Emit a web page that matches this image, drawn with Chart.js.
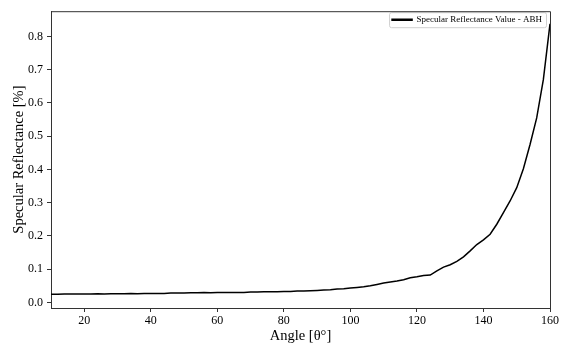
<!DOCTYPE html>
<html>
<head>
<meta charset="utf-8">
<script src="https://cdn.jsdelivr.net/npm/chart.js@4.4.0/dist/chart.umd.min.js"></script>
<style>
  html, body { margin: 0; padding: 0; background: #fff; }
  canvas { display: block; }
</style>
</head>
<body>
<canvas id="reflChart" width="561" height="351"></canvas>
<script>
// Angle of incidence [deg]
const angles = [10, 12, 14, 16, 18, 20, 22, 24, 26, 28, 30, 32, 34, 36, 38, 40, 42, 44, 46, 48,
    50, 52, 54, 56, 58, 60, 62, 64, 66, 68, 70, 72, 74, 76, 78, 80, 82, 84, 86, 88,
    90, 92, 94, 96, 98, 100, 102, 104, 106, 108, 110, 112, 114, 116, 118, 120, 122, 124, 126, 128,
    130, 132, 134, 136, 138, 140, 142, 144, 146, 148, 150, 152, 154, 156, 158, 160];

// Specular reflectance
const reflectance = [0.024, 0.024, 0.025, 0.025, 0.025, 0.025, 0.025, 0.026, 0.025, 0.026,
    0.026, 0.026, 0.027, 0.026, 0.027, 0.027, 0.027, 0.027, 0.028, 0.028,
    0.028, 0.029, 0.029, 0.030, 0.029, 0.030, 0.030, 0.030, 0.030, 0.030,
    0.031, 0.031, 0.032, 0.032, 0.032, 0.033, 0.033, 0.034, 0.034, 0.035,
    0.036, 0.037, 0.038, 0.040, 0.041, 0.043, 0.045, 0.047, 0.050, 0.054,
    0.058, 0.061, 0.064, 0.068, 0.074, 0.077, 0.081, 0.082, 0.095, 0.106,
    0.113, 0.123, 0.137, 0.155, 0.174, 0.188, 0.205, 0.235, 0.270, 0.305,
    0.345, 0.402, 0.475, 0.555, 0.670, 0.838];

const seriesLabel = 'Specular Reflectance Value - ABH';
const serif = '"Liberation Serif", "Times New Roman", serif';
const legendPad = 8;

// matplotlib look: legend in the upper right, box around it, top/right spines
const framePlugin = {
    id: 'frame',
    afterLayout(chart) {
        // move the (chartArea) legend to the upper right corner
        const lg = chart.legend;
        if (lg && lg.legendHitBoxes && lg.legendHitBoxes.length) {
            const hb = lg.legendHitBoxes[0];
            lg.left = chart.chartArea.right - legendPad - hb.width - legendPad;
            lg.top = chart.chartArea.top - 4;
        }
    },
    beforeDraw(chart) {
        const ctx = chart.ctx;
        const lg = chart.legend;
        if (lg && lg.legendHitBoxes && lg.legendHitBoxes.length) {
            const hb = lg.legendHitBoxes[0];
            const x0 = hb.left - 3, y0 = hb.top - 3;
            const w = hb.width + 7, h = hb.height + 6;
            ctx.save();
            ctx.fillStyle = 'rgba(255,255,255,0.8)';
            ctx.strokeStyle = '#d0d0d0';
            ctx.lineWidth = 1;
            ctx.beginPath();
            ctx.roundRect(x0 + 0.5, y0 + 0.5, w, h, 2);
            ctx.fill();
            ctx.stroke();
            ctx.restore();
        }
    },
    afterDraw(chart) {
        const {ctx, chartArea: a} = chart;
        ctx.save();
        ctx.strokeStyle = '#333';
        ctx.lineWidth = 1;
        ctx.beginPath();
        ctx.moveTo(a.left, a.top + 0.5);
        ctx.lineTo(a.right + 0.5, a.top + 0.5);
        ctx.lineTo(a.right + 0.5, a.bottom);
        ctx.stroke();
        ctx.restore();
    }
};

new Chart(document.getElementById('reflChart'), {
    type: 'line',
    data: {
        datasets: [{
            label: seriesLabel,
            data: angles.map((a, i) => ({x: a, y: reflectance[i]})),
            borderColor: '#000',
            backgroundColor: '#000',
            borderWidth: 1.5,
            pointRadius: 0,
            tension: 0,
            fill: false
        }]
    },
    options: {
        responsive: false,
        animation: false,
        layout: { padding: { top: 7, right: 11, left: 0, bottom: 0 } },
        plugins: {
            legend: {
                position: 'chartArea',
                align: 'start',
                labels: {
                    font: { family: serif, size: 9 },
                    color: '#000',
                    boxWidth: 20,
                    boxHeight: 1,
                    padding: legendPad
                }
            },
            tooltip: { enabled: false }
        },
        scales: {
            x: {
                type: 'linear',
                min: 10,
                max: 160,
                afterFit: (scale) => { scale.height = 43; },
                ticks: {
                    stepSize: 20,
                    includeBounds: false,
                    padding: 2,
                    color: '#000',
                    maxRotation: 0,
                    font: { family: serif, size: 12 }
                },
                grid: { display: true, drawOnChartArea: false, drawTicks: true, tickLength: 4, color: '#333' },
                border: { display: true, color: '#333', width: 1 },
                title: {
                    display: true,
                    text: 'Angle [θ°]',
                    color: '#000',
                    font: { family: serif, size: 14.5, lineHeight: 1.2 },
                    padding: { top: 0, bottom: 6 }
                }
            },
            y: {
                type: 'linear',
                min: -0.017,
                max: 0.876,
                afterFit: (scale) => { scale.width = 51; },
                ticks: {
                    stepSize: 0.1,
                    includeBounds: false,
                    padding: 4,
                    color: '#000',
                    font: { family: serif, size: 12 },
                    callback: (v) => v.toFixed(1)
                },
                grid: { display: true, drawOnChartArea: false, drawTicks: true, tickLength: 4, color: '#333' },
                border: { display: true, color: '#333', width: 1 },
                title: {
                    display: true,
                    text: 'Specular Reflectance [%]',
                    color: '#000',
                    font: { family: serif, size: 14.5, lineHeight: 1.2 },
                    padding: { top: 10, bottom: 0 }
                }
            }
        }
    },
    plugins: [framePlugin]
});
</script>
</body>
</html>
